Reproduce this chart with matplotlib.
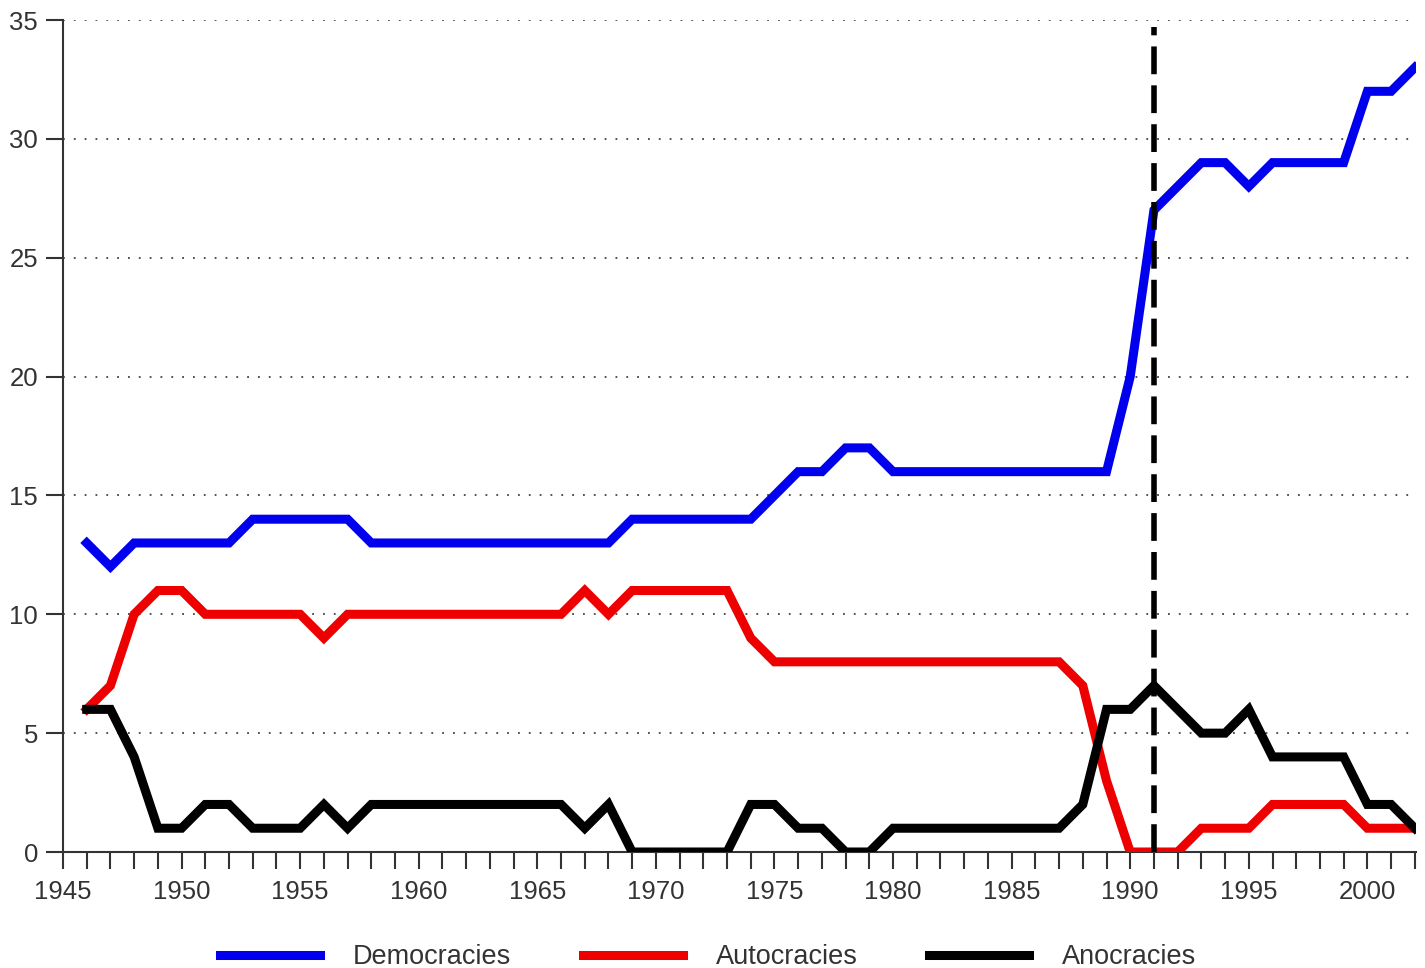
import numpy as np
import matplotlib
matplotlib.use("Agg")
from matplotlib import pyplot as plt

# =======================================================
#   Data: number of regimes per type, 1946-2002
# =======================================================
YEARS = list(range(1946, 2003))

DEMOCRACIES = [13, 12, 13, 13, 13, 13, 13, 14, 14, 14,   # 1946-1955
               14, 14, 13, 13, 13, 13, 13, 13, 13, 13,   # 1956-1965
               13, 13, 13, 14, 14, 14, 14, 14, 14, 15,   # 1966-1975
               16, 16, 17, 17, 16, 16, 16, 16, 16, 16,   # 1976-1985
               16, 16, 16, 16, 20, 27, 28, 29, 29, 28,   # 1986-1995
               29, 29, 29, 29, 32, 32, 33]               # 1996-2002

AUTOCRACIES = [6, 7, 10, 11, 11, 10, 10, 10, 10, 10,
               9, 10, 10, 10, 10, 10, 10, 10, 10, 10,
               10, 11, 10, 11, 11, 11, 11, 11, 9, 8,
               8, 8, 8, 8, 8, 8, 8, 8, 8, 8,
               8, 8, 7, 3, 0, 0, 0, 1, 1, 1,
               2, 2, 2, 2, 1, 1, 1]

ANOCRACIES = [6, 6, 4, 1, 1, 2, 2, 1, 1, 1,
              2, 1, 2, 2, 2, 2, 2, 2, 2, 2,
              2, 1, 2, 0, 0, 0, 0, 0, 2, 2,
              1, 1, 0, 0, 1, 1, 1, 1, 1, 1,
              1, 1, 2, 6, 6, 7, 6, 5, 5, 6,
              4, 4, 4, 4, 2, 2, 1]

SERIES = [("Democracies", DEMOCRACIES, "#0000ee"),
          ("Autocracies", AUTOCRACIES, "#ee0000"),
          ("Anocracies", ANOCRACIES, "#000000")]

MARKER_YEAR = 1991
Y_TICKS = [0, 5, 10, 15, 20, 25, 30, 35]
X_TICK_LABELS = [1945, 1950, 1955, 1960, 1965, 1970, 1975, 1980, 1985, 1990, 1995, 2000]
# =======================================================

plt.rcParams['font.family'] = ['Liberation Sans', 'DejaVu Sans']
TEXT_COLOR = '#333333'

fig = plt.figure(figsize=(14.25, 9.68), dpi=100)
ax = fig.add_axes([63 / 1425, 116 / 968, (1416 - 63) / 1425, (852 - 20) / 968])

# Dotted horizontal grid
for y in Y_TICKS[1:]:
    ax.axhline(y, color='#444444', linestyle=(0, (1, 5)), linewidth=1.3, zorder=1)

for label, values, color in SERIES:
    ax.plot(YEARS, values, color=color, linewidth=6.5, label=label,
            solid_joinstyle='miter', zorder=3)

# Dashed marker at the end of the Cold War
ax.plot([MARKER_YEAR, MARKER_YEAR], [0, 34.7], color='black', linewidth=4,
        linestyle=(0, (5, 2)), zorder=4)

ax.set_xlim(1945, 2002.05)
ax.set_ylim(0, 35)

ax.set_xticks(range(1945, 2003))
ax.set_xticklabels([str(y) if y in X_TICK_LABELS else '' for y in range(1945, 2003)])
ax.set_yticks(Y_TICKS)
ax.tick_params(axis='both', direction='out', length=12, width=1.5, colors='#333333',
               labelsize=18.5, labelcolor=TEXT_COLOR)
ax.tick_params(axis='x', pad=8)
ax.tick_params(axis='y', pad=6)

for side in ['top', 'right']:
    ax.spines[side].set_visible(False)
for side in ['left', 'bottom']:
    ax.spines[side].set_linewidth(1.5)
    ax.spines[side].set_color('#333333')

handles, labels = ax.get_legend_handles_labels()
leg = fig.legend(handles, labels, loc='center', bbox_to_anchor=(0.497, 0.011), ncol=3,
                 frameon=False, fontsize=19.5, handlelength=3.7, handletextpad=1.2,
                 columnspacing=2.65)
for t in leg.get_texts():
    t.set_color(TEXT_COLOR)

plt.savefig('out.png', dpi=100)
plt.close(fig)
